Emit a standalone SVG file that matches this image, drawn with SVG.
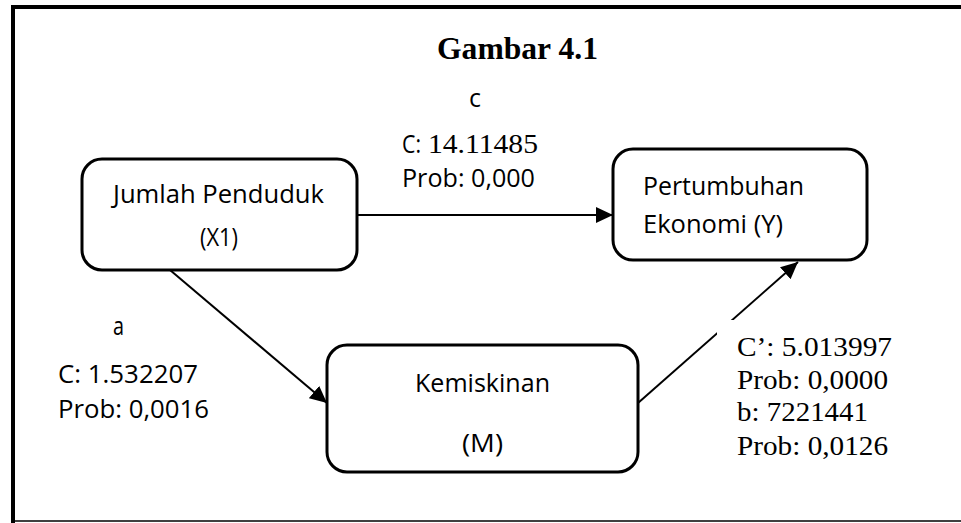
<svg xmlns="http://www.w3.org/2000/svg" width="961" height="523" viewBox="0 0 961 523">
<defs>
<style>
.box{fill:#fff;stroke:#000;stroke-width:3}
.sans{font-family:"Open Sans","Liberation Sans",sans-serif;font-size:25px;fill:#000}
.serif{font-family:"Liberation Serif","Times New Roman",serif;font-size:28px;fill:#000}
.title{font-family:"Liberation Serif","Times New Roman",serif;font-size:31px;font-weight:bold;fill:#000}
.conn{stroke:#000;stroke-width:2;fill:none;marker-end:url(#ah)}
</style>
<marker id="ah" markerUnits="userSpaceOnUse" markerWidth="18" markerHeight="16" viewBox="0 0 18 16" refX="17" refY="8" orient="auto">
<path d="M0,0 L17,8 L0,16 z" fill="#000"/>
</marker>
</defs>
<rect width="961" height="523" fill="#fff"/>
<g id="frame">
<line x1="11" y1="7" x2="961" y2="7" stroke="#000" stroke-width="4"/>
<line x1="13" y1="5" x2="13" y2="523" stroke="#000" stroke-width="4"/>
<line x1="11" y1="521" x2="961" y2="521" stroke="#000" stroke-width="1.5"/>
</g>
<text class="title" x="437" y="59" textLength="161" lengthAdjust="spacingAndGlyphs">Gambar 4.1</text>
<g id="connectors">
<line class="conn" x1="357" y1="215" x2="613" y2="215"/>
<line class="conn" x1="170" y1="270" x2="327" y2="403"/>
<line class="conn" x1="638" y1="403" x2="798" y2="262"/>
</g>
<g id="node-x1">
<rect class="box" x="82" y="159" width="275" height="111" rx="20"/>
<text class="sans" x="113" y="203" textLength="211" lengthAdjust="spacingAndGlyphs">Jumlah Penduduk</text>
<text class="sans" x="200" y="246" textLength="38" lengthAdjust="spacingAndGlyphs">(X1)</text>
</g>
<g id="node-y">
<rect class="box" x="613" y="149" width="254" height="111" rx="20"/>
<text class="sans" x="643" y="195" textLength="161" lengthAdjust="spacingAndGlyphs">Pertumbuhan</text>
<text class="sans" x="643" y="233" textLength="140" lengthAdjust="spacingAndGlyphs">Ekonomi (Y)</text>
</g>
<g id="node-m">
<rect class="box" x="327" y="345" width="311" height="127" rx="20"/>
<text class="sans" x="415" y="392" textLength="135" lengthAdjust="spacingAndGlyphs">Kemiskinan</text>
<text class="sans" x="462" y="452" textLength="41" lengthAdjust="spacingAndGlyphs">(M)</text>
</g>
<g id="label-c">
<text class="sans" x="469" y="107" textLength="12" lengthAdjust="spacingAndGlyphs">c</text>
<text x="402" y="153"><tspan class="sans" textLength="19" lengthAdjust="spacingAndGlyphs">C:</tspan><tspan class="serif" x="428" textLength="110" lengthAdjust="spacingAndGlyphs">14.11485</tspan></text>
<text class="sans" x="402" y="187" textLength="133" lengthAdjust="spacingAndGlyphs">Prob: 0,000</text>
</g>
<g id="label-a">
<text class="sans" x="113" y="335" textLength="11" lengthAdjust="spacingAndGlyphs">a</text>
<text class="sans" x="58" y="383" textLength="140" lengthAdjust="spacingAndGlyphs">C: 1.532207</text>
<text class="sans" x="58" y="418" textLength="151" lengthAdjust="spacingAndGlyphs">Prob: 0,0016</text>
</g>
<g id="label-b">
<rect x="717" y="320" width="185" height="150" fill="#fff"/>
<text class="serif" x="737" y="356" textLength="155" lengthAdjust="spacingAndGlyphs">C’: 5.013997</text>
<text class="serif" x="737" y="389" textLength="151" lengthAdjust="spacingAndGlyphs">Prob: 0,0000</text>
<text class="serif" x="737" y="421" textLength="131" lengthAdjust="spacingAndGlyphs">b: 7221441</text>
<text class="serif" x="737" y="455" textLength="151" lengthAdjust="spacingAndGlyphs">Prob: 0,0126</text>
</g>
</svg>
